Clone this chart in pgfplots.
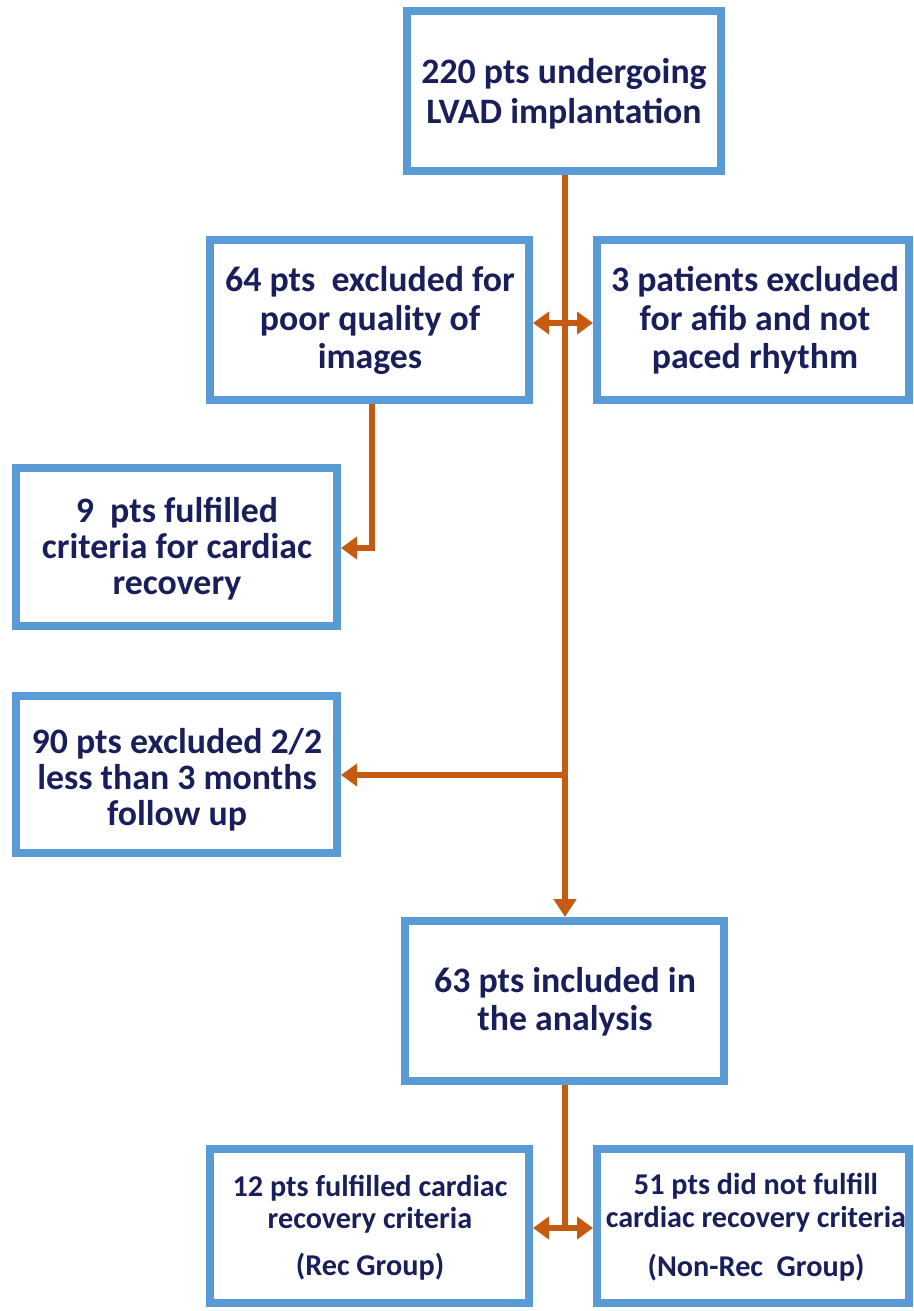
\documentclass[border=0pt]{standalone}
\usepackage{fontspec}
\setmainfont{Carlito}
\usepackage{pgfplots}
\pgfplotsset{compat=1.18}
\usetikzlibrary{arrows.meta}
\definecolor{boxblue}{RGB}{91,155,213}
\definecolor{arr}{RGB}{197,90,17}
\definecolor{navy}{RGB}{24,31,90}
\tikzset{
  flowbox/.style={draw=boxblue,line width=4pt,line join=miter,mark=none},
  arrowln/.style={draw=arr,line width=2.7pt,mark=none,line join=miter},
  tl/.style={anchor=base,text=navy,inner sep=0pt,font=\fontsize{17.9}{20}\selectfont\bfseries},
  ts/.style={anchor=base,text=navy,inner sep=0pt,font=\fontsize{15.1}{18}\selectfont\bfseries}
}
\begin{document}
\begin{tikzpicture}
\begin{axis}[width=457pt,height=655.5pt,scale only axis,
  xmin=0,xmax=914,ymin=0,ymax=1311,y dir=reverse,hide axis,clip=false]
% connectors
\addplot[arrowln,-{Triangle[length=9pt,width=11pt]}] coordinates {(565,175) (565,917)};
\addplot[arrowln,{Triangle[length=8pt,width=11pt]}-{Triangle[length=8pt,width=11pt]}] coordinates {(533,323) (593,323)};
\addplot[arrowln,-{Triangle[length=8pt,width=11pt]}] coordinates {(372,404) (372,548) (341,548)};
\addplot[arrowln,-{Triangle[length=8pt,width=11pt]}] coordinates {(565,775) (341,775)};
\addplot[arrowln] coordinates {(565,1085) (565,1228)};
\addplot[arrowln,{Triangle[length=8pt,width=11pt]}-{Triangle[length=8pt,width=11pt]}] coordinates {(533,1228) (593,1228)};
% boxes
\addplot[flowbox] coordinates {(407,11) (721,11) (721,171) (407,171)} -- cycle;
\addplot[flowbox] coordinates {(210,240) (529,240) (529,400) (210,400)} -- cycle;
\addplot[flowbox] coordinates {(597,240) (909,240) (909,400) (597,400)} -- cycle;
\addplot[flowbox] coordinates {(16,468) (337,468) (337,626) (16,626)} -- cycle;
\addplot[flowbox] coordinates {(16,696) (337,696) (337,853) (16,853)} -- cycle;
\addplot[flowbox] coordinates {(405,921) (724,921) (724,1081) (405,1081)} -- cycle;
\addplot[flowbox] coordinates {(210,1149) (529,1149) (529,1303) (210,1303)} -- cycle;
\addplot[flowbox] coordinates {(597,1149) (909,1149) (909,1303) (597,1303)} -- cycle;
% texts
\node[tl] at (axis cs:564,84) {220 pts undergoing};
\node[tl] at (axis cs:564,124) {LVAD implantation};
\node[tl] at (axis cs:370,291) {64 pts\ \ excluded for};
\node[tl] at (axis cs:370,330) {poor quality of};
\node[tl] at (axis cs:370,368) {images};
\node[tl] at (axis cs:755,291) {3 patients excluded};
\node[tl] at (axis cs:755,330) {for afib and not};
\node[tl] at (axis cs:755,368) {paced rhythm};
\node[tl] at (axis cs:177,522) {9\ \ pts fulfilled};
\node[tl] at (axis cs:177,558) {criteria for cardiac};
\node[tl] at (axis cs:177,594) {recovery};
\node[tl] at (axis cs:177,753) {90 pts excluded 2/2};
\node[tl] at (axis cs:177,789) {less than 3 months};
\node[tl] at (axis cs:177,825) {follow up};
\node[tl] at (axis cs:565,992) {63 pts included in};
\node[tl] at (axis cs:565,1030) {the analysis};
\node[ts] at (axis cs:370,1196) {12 pts fulfilled cardiac};
\node[ts] at (axis cs:370,1228) {recovery criteria};
\node[ts] at (axis cs:370,1275) {(Rec Group)};
\node[ts] at (axis cs:756,1194) {51 pts did not fulfill};
\node[ts] at (axis cs:756,1227) {cardiac recovery criteria};
\node[ts] at (axis cs:756,1276) {(Non-Rec\ \ Group)};
\end{axis}
\pgfresetboundingbox
\path[use as bounding box] (current axis.south west) rectangle (current axis.north east);
\end{tikzpicture}
\end{document}
